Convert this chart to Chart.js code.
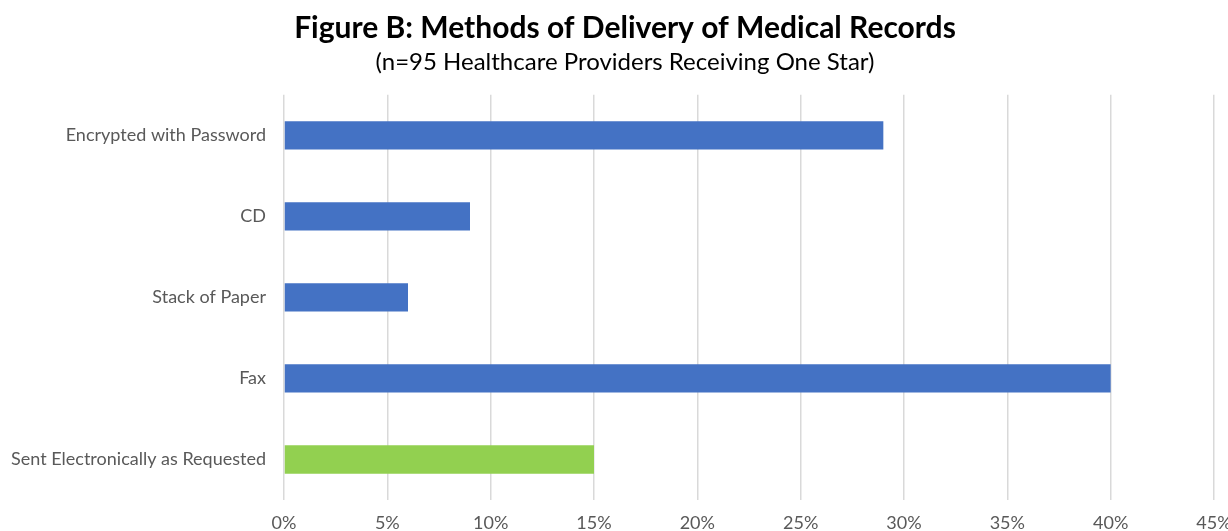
<!DOCTYPE html>
<html>
<head>
<meta charset="utf-8">
<script src="https://cdn.jsdelivr.net/npm/chart.js@4"></script>
<style>
  html, body { margin: 0; background: #fff; overflow: hidden; }
  /* a bit wider than the window so the title centres like the original and 45% is cut at the edge */
  #wrap { width: 1250px; height: 531px; }
</style>
</head>
<body>
<div id="wrap"><canvas id="methodsChart"></canvas></div>
<script>
const categories = ['Encrypted with Password', 'CD', 'Stack of Paper', 'Fax', 'Sent Electronically as Requested'];
const shares = [29, 9, 6, 40, 15];
const barColors = ['#4472C4', '#4472C4', '#4472C4', '#4472C4', '#92D050'];
const xTicks = [0, 5, 10, 15, 20, 25, 30, 35, 40, 45];

const labelFont = { family: 'Lato, "Open Sans", sans-serif', size: 18 };

const methodsChart = new Chart(document.getElementById('methodsChart'), {
  type: 'bar',
  data: {
    labels: categories,
    datasets: [{
      data: shares,
      backgroundColor: barColors,
      borderWidth: 0,
      categoryPercentage: 1,
      barPercentage: 0.35
    }]
  },
  options: {
    indexAxis: 'y',
    responsive: true,
    maintainAspectRatio: false,
    animation: false,
    layout: { padding: { left: 0, right: 0, top: 0, bottom: 0 } },
    plugins: {
      legend: { display: false },
      tooltip: { enabled: false },
      title: {
        display: true,
        text: 'Figure B: Methods of Delivery of Medical Records',
        color: '#000',
        font: { family: 'Lato, "Open Sans", sans-serif', size: 30, weight: 'bold' },
        padding: { top: 10, bottom: 2 }
      },
      subtitle: {
        display: true,
        text: '(n=95 Healthcare Providers Receiving One Star)',
        color: '#000',
        font: { family: 'Lato, "Open Sans", sans-serif', size: 24 },
        padding: { top: 0, bottom: 18 }
      }
    },
    scales: {
      x: {
        min: 0,
        max: 45,
        afterBuildTicks: scale => { scale.ticks = xTicks.map(v => ({ value: v })); },
        afterFit: scale => { scale.paddingRight = 36; scale.height = 31; },
        border: { display: false },
        grid: { color: '#d9d9d9', lineWidth: 1.5, drawTicks: false },
        ticks: {
          color: '#595959',
          font: labelFont,
          padding: 12,
          callback: v => v + '%'
        }
      },
      y: {
        border: { display: false },
        grid: { display: false, drawTicks: false },
        afterFit: scale => { scale.width = 284; },
        ticks: { color: '#595959', font: labelFont, padding: 18 }
      }
    }
  }
});
</script>
</body>
</html>
